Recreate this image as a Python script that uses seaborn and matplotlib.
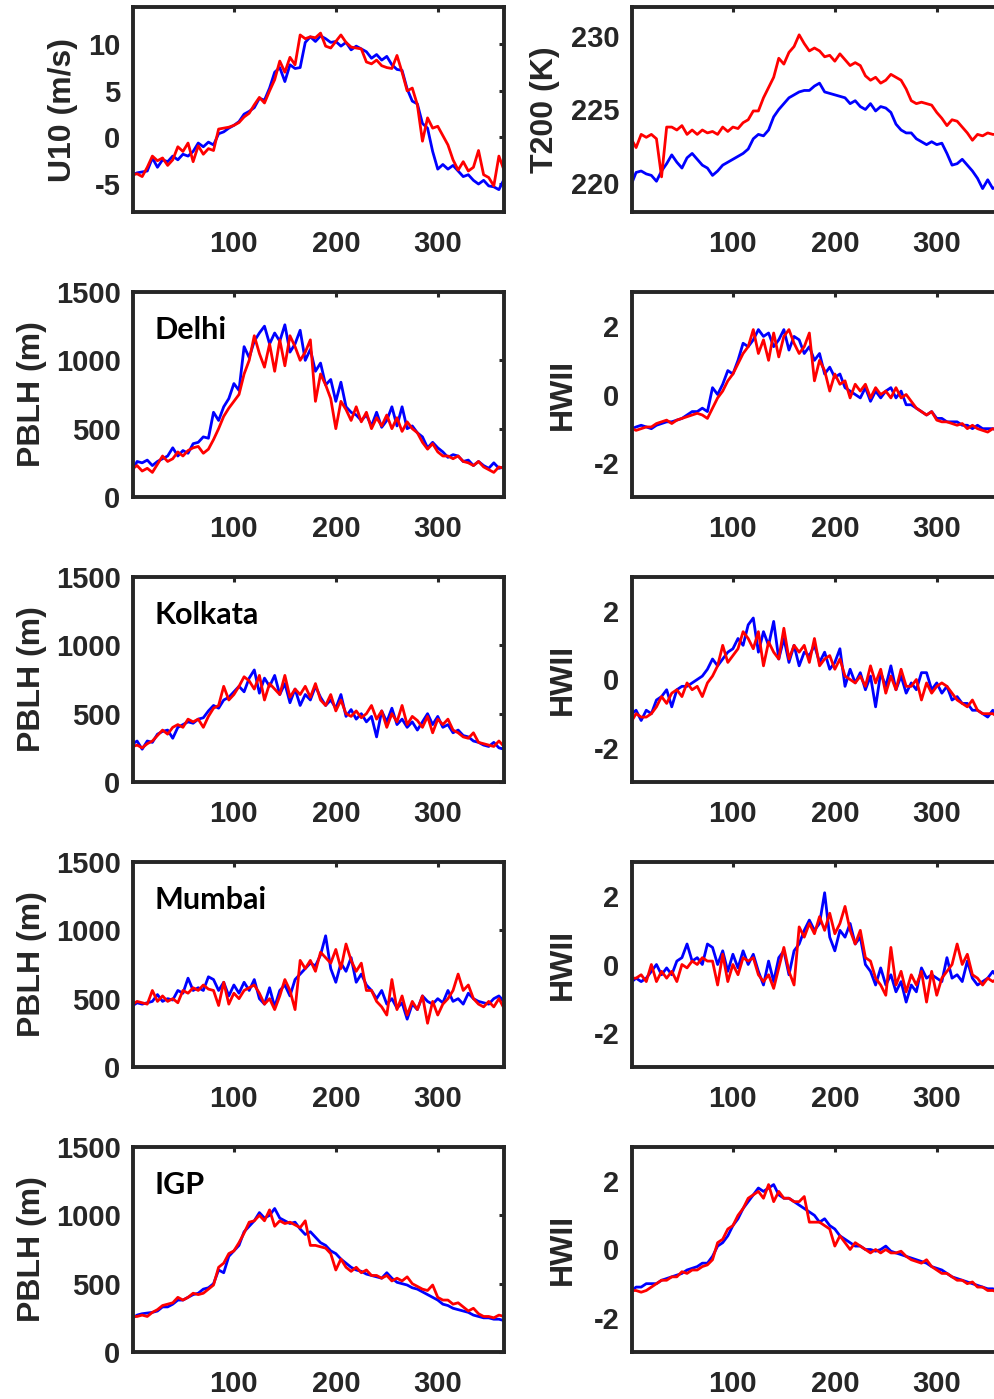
import matplotlib
matplotlib.use("Agg")
import matplotlib.pyplot as plt
import seaborn as sns

# ---------------- data (day of year, sampled every 5 days) ----------------
days = [1] + list(range(5, 366, 5))

u10_blue = [-4.0, -3.8, -3.7, -3.6, -2.2, -3.2, -2.4, -2.6, -2.0, -2.4,
            -1.8, -2.0, -1.5, -0.6, -1.0, -0.5, -0.8, 0.4, 0.6, 1.0,
            1.3, 1.7, 2.5, 2.8, 3.2, 4.2, 4.0, 5.3, 7.0, 7.5,
            6.0, 7.8, 7.4, 7.5, 10.2, 10.8, 10.3, 10.9, 10.6, 10.2,
            10.3, 9.8, 10.2, 9.4, 9.8, 9.5, 9.2, 8.5, 8.9, 8.3,
            8.7, 7.8, 7.3, 7.2, 5.2, 3.9, 3.6, 1.5, 1.0, -1.5,
            -3.4, -2.9, -3.4, -3.0, -3.6, -4.2, -4.0, -4.6, -5.0, -4.6,
            -5.2, -5.3, -5.6, -4.5]
u10_red = [-4.0, -3.9, -4.2, -3.2, -2.0, -2.5, -2.2, -3.0, -2.4, -1.0,
           -1.5, -0.6, -2.6, -0.9, -1.8, -1.2, -1.4, 0.9, 1.0, 1.1,
           1.3, 1.6, 2.2, 2.6, 3.5, 4.3, 3.7, 5.0, 6.2, 8.2,
           7.0, 8.6, 7.8, 11.0, 10.6, 10.8, 10.7, 11.2, 9.8, 9.6,
           10.3, 11.0, 10.2, 9.7, 9.6, 9.5, 8.1, 7.9, 8.3, 7.7,
           7.5, 7.4, 8.8, 7.0, 5.0, 5.3, 3.5, -0.4, 2.1, 1.0,
           1.2, 0.2, -0.8, -2.4, -3.5, -2.6, -3.6, -3.2, -1.4, -4.0,
           -4.3, -5.2, -2.0, -3.5]

t200_blue = [220.0, 220.7, 220.8, 220.6, 220.5, 220.1, 220.8, 221.3, 221.9, 221.4,
             221.0, 221.7, 222.0, 221.6, 221.2, 221.0, 220.5, 220.8, 221.2, 221.4,
             221.6, 221.8, 222.0, 222.3, 223.0, 223.3, 223.2, 223.6, 224.5, 225.0,
             225.4, 225.8, 226.0, 226.2, 226.3, 226.3, 226.6, 226.8, 226.2, 226.1,
             226.0, 225.9, 225.8, 225.4, 225.6, 225.2, 225.0, 225.4, 224.9, 225.2,
             225.1, 224.8, 224.0, 223.6, 223.4, 223.4, 223.0, 222.8, 222.6, 222.8,
             222.6, 222.7, 222.0, 221.2, 221.3, 221.6, 221.2, 220.8, 220.3, 219.6,
             220.2, 219.6, 219.8, 219.6]
t200_red = [222.9, 222.4, 223.3, 223.1, 223.3, 223.0, 220.4, 223.8, 223.8, 223.6,
            223.9, 223.3, 223.6, 223.3, 223.6, 223.4, 223.5, 223.3, 223.8, 223.5,
            223.8, 223.7, 224.1, 224.3, 224.9, 224.9, 225.8, 226.5, 227.2, 228.5,
            228.1, 228.9, 229.3, 230.1, 229.5, 229.0, 229.2, 229.0, 228.6, 228.7,
            228.3, 228.8, 228.4, 228.0, 228.2, 228.0, 227.3, 227.0, 227.2, 226.8,
            227.0, 227.4, 227.2, 227.0, 226.4, 225.6, 225.4, 225.5, 225.4, 225.3,
            224.8, 224.4, 223.9, 224.3, 224.2, 223.8, 223.4, 222.9, 223.3, 223.2,
            223.4, 223.3, 223.3, 223.3]

delhi_pblh_blue = [200, 260, 250, 270, 230, 260, 280, 300, 360, 300,
                   340, 320, 390, 400, 440, 430, 620, 560, 660, 720,
                   830, 780, 1100, 1020, 1140, 1200, 1250, 1120, 1200, 1140,
                   1260, 1060, 1120, 1220, 1000, 1080, 920, 980, 820, 860,
                   700, 840, 660, 620, 600, 560, 600, 520, 620, 510,
                   560, 660, 520, 660, 500, 520, 470, 440, 360, 400,
                   360, 330, 290, 310, 300, 260, 270, 230, 260, 230,
                   210, 250, 210, 220]
delhi_pblh_red = [210, 230, 190, 210, 180, 240, 300, 260, 280, 330,
                  300, 340, 360, 370, 320, 350, 420, 500, 590, 650,
                  700, 750, 900, 1000, 1180, 1050, 950, 1120, 920, 1150,
                  960, 1180, 1100, 1000, 1060, 1150, 700, 900, 820, 720,
                  500, 700, 640, 560, 660, 550, 620, 500, 580, 520,
                  600, 500, 580, 480, 550, 500, 470, 400, 350, 390,
                  330, 300, 300, 280, 300, 260, 250, 230, 260, 220,
                  200, 180, 220, 210]
delhi_hwii_blue = [-1.0, -0.95, -0.9, -0.95, -1.0, -0.9, -0.85, -0.8, -0.8, -0.75,
                   -0.7, -0.6, -0.5, -0.5, -0.4, -0.5, 0.2, 0.0, 0.3, 0.7,
                   0.6, 1.0, 1.5, 1.4, 1.6, 1.9, 1.7, 1.8, 1.4, 1.6,
                   1.9, 1.3, 1.7, 1.6, 1.2, 1.4, 1.0, 1.2, 0.6, 0.8,
                   0.5, 0.6, 0.2, 0.1, 0.0, -0.1, 0.2, -0.2, 0.1, -0.1,
                   0.1, 0.2, -0.1, 0.1, -0.3, -0.3, -0.4, -0.5, -0.6, -0.5,
                   -0.7, -0.7, -0.8, -0.8, -0.8, -0.9, -0.9, -1.0, -0.9, -1.0,
                   -1.0, -1.0, -1.05, -1.0]
delhi_hwii_red = [-1.0, -1.05, -1.0, -0.95, -0.95, -0.85, -0.8, -0.75, -0.85, -0.75,
                  -0.7, -0.65, -0.6, -0.55, -0.6, -0.7, -0.4, -0.1, 0.1, 0.4,
                  0.6, 0.9, 1.2, 1.4, 1.9, 1.2, 1.6, 1.0, 1.8, 1.1,
                  1.7, 1.9, 1.5, 1.2, 1.4, 1.8, 0.4, 1.0, 0.7, 0.1,
                  0.6, 0.3, 0.4, -0.1, 0.3, 0.1, 0.3, -0.1, 0.2, 0.0,
                  0.1, -0.1, 0.2, -0.1, 0.0, -0.2, -0.4, -0.5, -0.6, -0.5,
                  -0.75, -0.8, -0.8, -0.85, -0.9, -0.85, -1.0, -0.9, -1.0, -1.05,
                  -1.1, -1.0, -1.05, -1.0]

kolkata_pblh_blue = [280, 300, 240, 300, 290, 350, 370, 380, 320, 400,
                     420, 440, 430, 460, 470, 520, 560, 540, 600, 620,
                     660, 700, 660, 760, 820, 650, 760, 700, 780, 640,
                     720, 580, 680, 560, 640, 600, 700, 620, 560, 600,
                     540, 640, 480, 530, 460, 500, 440, 480, 330, 520,
                     440, 540, 420, 460, 400, 440, 380, 440, 500, 420,
                     480, 400, 420, 360, 380, 340, 330, 300, 290, 270,
                     260, 290, 250, 240]
kolkata_pblh_red = [260, 270, 250, 280, 300, 340, 380, 350, 400, 420,
                    400, 460, 440, 460, 400, 480, 540, 560, 700, 600,
                    640, 700, 770, 740, 680, 780, 600, 720, 680, 640,
                    780, 620, 680, 640, 700, 620, 720, 600, 560, 640,
                    520, 600, 500, 480, 520, 470, 500, 560, 460, 520,
                    400, 500, 440, 560, 420, 480, 450, 400, 480, 360,
                    460, 420, 460, 380, 360, 330, 320, 360, 290, 280,
                    270, 260, 300, 260]
kolkata_hwii_blue = [-1.0, -0.9, -1.2, -0.9, -1.0, -0.6, -0.5, -0.3, -0.8, -0.3,
                     -0.2, -0.2, -0.1, 0.0, 0.1, 0.3, 0.6, 0.4, 0.6, 0.8,
                     0.9, 1.2, 1.0, 1.6, 1.8, 0.8, 1.4, 1.0, 1.7, 0.6,
                     1.2, 0.5, 1.0, 0.4, 0.8, 0.7, 1.0, 0.5, 0.8, 0.3,
                     0.5, 0.9, -0.2, 0.3, -0.1, 0.2, -0.3, 0.1, -0.8, 0.2,
                     -0.2, 0.4, -0.3, 0.1, -0.4, -0.1, -0.3, 0.2, 0.2, -0.3,
                     -0.1, -0.4, -0.2, -0.6, -0.5, -0.7, -0.7, -0.9, -0.9, -1.0,
                     -1.1, -0.9, -1.1, -1.1]
kolkata_hwii_red = [-1.2, -1.0, -1.1, -1.1, -1.0, -0.8, -0.5, -0.7, -0.4, -0.3,
                    -0.5, -0.1, -0.3, -0.2, -0.5, -0.1, 0.1, 0.4, 1.0, 0.5,
                    0.7, 0.9, 1.4, 1.2, 0.9, 1.4, 0.4, 1.1, 0.8, 0.6,
                    1.5, 0.6, 1.0, 0.8, 1.0, 0.5, 1.2, 0.4, 0.6, 0.7,
                    0.3, 0.6, 0.1, 0.0, -0.1, 0.1, -0.2, 0.4, -0.1, 0.3,
                    -0.4, 0.1, -0.3, 0.3, -0.2, -0.2, 0.0, -0.6, -0.1, -0.4,
                    -0.2, -0.1, -0.2, -0.4, -0.6, -0.7, -0.8, -0.6, -0.9, -1.0,
                    -1.0, -1.0, -1.1, -1.1]

mumbai_pblh_blue = [450, 470, 460, 470, 480, 530, 480, 500, 490, 560,
                    540, 650, 560, 580, 560, 660, 640, 560, 620, 520,
                    600, 540, 620, 560, 640, 500, 460, 580, 440, 560,
                    600, 520, 640, 680, 720, 760, 740, 820, 960, 720,
                    620, 760, 700, 800, 620, 680, 600, 560, 500, 560,
                    460, 500, 430, 470, 350, 460, 420, 520, 480, 460,
                    500, 470, 560, 480, 500, 460, 540, 500, 480, 470,
                    460, 500, 520, 480]
mumbai_pblh_red = [460, 480, 470, 460, 560, 480, 520, 480, 500, 470,
                   560, 540, 580, 560, 600, 570, 560, 450, 620, 460,
                   540, 500, 560, 580, 600, 540, 460, 500, 420, 520,
                   640, 560, 420, 780, 720, 780, 700, 840, 800, 760,
                   860, 720, 900, 780, 700, 760, 560, 560, 480, 440,
                   380, 640, 420, 520, 380, 480, 420, 520, 320, 480,
                   380, 460, 500, 560, 680, 560, 600, 500, 460, 440,
                   480, 440, 500, 430]
mumbai_hwii_blue = [-0.5, -0.4, -0.5, -0.4, -0.2, 0.0, -0.3, -0.1, -0.3, 0.1,
                    0.2, 0.6, 0.1, 0.2, 0.0, 0.6, 0.5, 0.0, 0.4, -0.2,
                    0.3, -0.1, 0.4, 0.0, 0.3, -0.2, -0.6, 0.1, -0.5, 0.2,
                    0.4, -0.3, 0.4, 0.6, 1.0, 1.3, 1.0, 1.2, 2.1, 0.8,
                    0.4, 1.0, 0.8, 1.2, 0.6, 0.8, 0.0, -0.2, -0.6, -0.1,
                    -0.6, -0.3, -0.8, -0.5, -1.1, -0.6, -0.8, -0.1, -0.4, -0.3,
                    -0.4, -0.5, 0.2, -0.4, -0.3, -0.5, 0.1, -0.4, -0.6, -0.5,
                    -0.4, -0.2, -0.4, -0.5]
mumbai_hwii_red = [-0.4, -0.4, -0.3, -0.5, 0.0, -0.5, -0.2, -0.4, -0.2, -0.5,
                   0.0, -0.1, 0.1, 0.0, 0.2, 0.1, 0.1, -0.6, 0.3, -0.5,
                   0.0, -0.3, 0.2, 0.1, 0.2, -0.3, -0.5, -0.3, -0.7, -0.1,
                   0.5, -0.2, -0.6, 1.1, 0.8, 1.2, 0.9, 1.4, 1.0, 1.5,
                   0.9, 1.2, 1.7, 1.0, 0.6, 1.0, 0.2, 0.1, -0.4, -0.6,
                   -0.9, 0.5, -0.6, -0.2, -0.8, -0.3, -0.6, -0.2, -1.1, -0.2,
                   -0.9, -0.4, -0.2, 0.0, 0.6, 0.0, 0.3, -0.3, -0.4, -0.6,
                   -0.4, -0.5, -0.4, -0.5]

igp_pblh_blue = [250, 270, 280, 285, 290, 300, 330, 330, 350, 380,
                 380, 400, 420, 430, 460, 470, 500, 600, 580, 700,
                 740, 780, 880, 920, 960, 1020, 980, 1000, 1050, 980,
                 960, 940, 950, 900, 860, 880, 840, 800, 780, 740,
                 720, 680, 650, 620, 600, 590, 570, 560, 550, 540,
                 580, 540, 510, 500, 490, 470, 460, 440, 420, 400,
                 380, 350, 340, 320, 310, 300, 290, 270, 260, 250,
                 250, 240, 240, 230]
igp_pblh_red = [260, 260, 270, 260, 290, 310, 340, 350, 360, 400,
                380, 400, 430, 420, 430, 460, 490, 620, 650, 720,
                740, 800, 870, 950, 960, 1000, 960, 1040, 920, 960,
                940, 950, 930, 910, 960, 780, 780, 770, 760, 720,
                600, 680, 620, 590, 620, 580, 600, 560, 560, 540,
                560, 520, 540, 520, 550, 500, 480, 460, 450, 490,
                400, 380, 380, 350, 360, 330, 300, 320, 280, 260,
                260, 250, 270, 260]
igp_hwii_blue = [-1.2, -1.1, -1.1, -1.0, -1.0, -1.0, -0.9, -0.85, -0.8, -0.75,
                 -0.7, -0.6, -0.55, -0.5, -0.4, -0.4, -0.2, 0.1, 0.2, 0.4,
                 0.7, 0.9, 1.2, 1.4, 1.6, 1.8, 1.7, 1.8, 1.9, 1.6,
                 1.5, 1.5, 1.4, 1.3, 1.2, 1.1, 1.0, 0.8, 0.9, 0.7,
                 0.6, 0.4, 0.3, 0.2, 0.1, 0.1, 0.0, 0.0, -0.05, 0.0,
                 0.1, -0.05, -0.1, -0.15, -0.2, -0.25, -0.3, -0.35, -0.4, -0.5,
                 -0.55, -0.6, -0.7, -0.8, -0.85, -0.9, -0.95, -1.0, -1.05, -1.1,
                 -1.15, -1.15, -1.2, -1.2]
igp_hwii_red = [-1.2, -1.2, -1.25, -1.2, -1.1, -1.0, -0.9, -0.9, -0.8, -0.8,
                -0.65, -0.7, -0.6, -0.6, -0.5, -0.45, -0.3, 0.2, 0.3, 0.6,
                0.7, 1.0, 1.2, 1.5, 1.6, 1.7, 1.5, 1.9, 1.4, 1.7,
                1.5, 1.5, 1.4, 1.4, 1.55, 0.8, 0.8, 0.8, 0.7, 0.6,
                0.1, 0.4, 0.2, 0.0, 0.2, 0.1, 0.0, -0.1, 0.0, -0.1,
                0.0, -0.1, -0.1, -0.05, -0.2, -0.3, -0.35, -0.4, -0.3, -0.5,
                -0.6, -0.7, -0.7, -0.8, -0.9, -0.9, -1.0, -0.95, -1.1, -1.1,
                -1.2, -1.2, -1.25, -1.2]

city_names = ["Delhi", "Kolkata", "Mumbai", "IGP"]
x_ticks = [100, 200, 300]

# ---------------- style ----------------
sns.set_style("white")
plt.rcParams['font.family'] = ['Liberation Sans', 'DejaVu Sans']
plt.rcParams['font.weight'] = 'bold'
plt.rcParams['axes.unicode_minus'] = False
dark = '#262626'
blue_c = '#0000ff'
red_c = '#ff0000'

fig = plt.figure(figsize=(9.95, 13.99), dpi=100)
W, H = 995.0, 1399.0
col_x = [133 / W, 632 / W]
ax_w = 371 / W
ax_h = 205 / H
row_tops = [7, 292, 577, 862, 1147]

panels = [
    [(u10_blue, u10_red, "U10 (m/s)", (-8, 14), [-5, 0, 5, 10], -0.148, None),
     (t200_blue, t200_red, "T200 (K)", (218, 232), [220, 225, 230], -0.194, None)],
]
pblh_sets = [(delhi_pblh_blue, delhi_pblh_red, delhi_hwii_blue, delhi_hwii_red),
             (kolkata_pblh_blue, kolkata_pblh_red, kolkata_hwii_blue, kolkata_hwii_red),
             (mumbai_pblh_blue, mumbai_pblh_red, mumbai_hwii_blue, mumbai_hwii_red),
             (igp_pblh_blue, igp_pblh_red, igp_hwii_blue, igp_hwii_red)]
for name, (pb, pr, hb, hr) in zip(city_names, pblh_sets):
    panels.append([(pb, pr, "PBLH (m)", (0, 1500), [0, 500, 1000, 1500], -0.232, name),
                   (hb, hr, "HWII", (-3, 3), [-2, 0, 2], -0.146, None)])

for r, top in enumerate(row_tops):
    bottom = 1 - (top + 205) / H
    for c in range(2):
        yb, yr, ylab, ylim, yticks, labx, city = panels[r][c]
        ax = fig.add_axes([col_x[c], bottom, ax_w, ax_h])
        sns.lineplot(x=days, y=yb, color=blue_c, linewidth=2.0, ax=ax)
        sns.lineplot(x=days, y=yr, color=red_c, linewidth=2.0, ax=ax)
        ax.set_xlim(1, 365)
        ax.set_ylim(*ylim)
        ax.set_xticks(x_ticks)
        ax.set_yticks(yticks)
        ax.tick_params(axis='both', direction='in', top=True, right=True,
                       length=3.5, width=2.2, color=dark, labelcolor=dark,
                       labelsize=21)
        ax.tick_params(axis='x', pad=13)
        ax.tick_params(axis='y', pad=9)
        for lbl in ax.get_xticklabels() + ax.get_yticklabels():
            lbl.set_fontweight('bold')
        for sp in ax.spines.values():
            sp.set_linewidth(2.8)
            sp.set_color(dark)
        ax.set_xlabel("")
        ax.set_ylabel(ylab, fontsize=23, fontweight='bold', color=dark)
        ax.yaxis.set_label_coords(labx, 0.5)
        if city is not None:
            ax.text(0.059, 0.77, city, transform=ax.transAxes, fontsize=22,
                    fontweight='bold', color='black', ha='left', va='baseline',
                    family=['Lato', 'DejaVu Sans'])

fig.savefig("out.png", dpi=100)
